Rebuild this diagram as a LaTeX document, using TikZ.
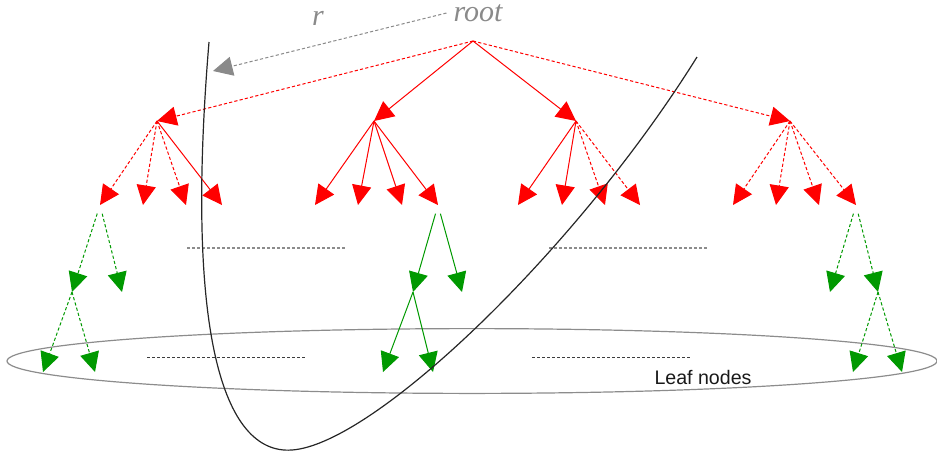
\documentclass[tikz,border=0pt]{standalone}
\usepackage{fontspec}
\usetikzlibrary{arrows.meta}
\newfontfamily\leafsans{Liberation Sans}
\newfontfamily\rootserif{Liberation Serif}
\definecolor{treeRed}{HTML}{FF0000}
\definecolor{treeGreen}{HTML}{009900}
\definecolor{radiusGray}{HTML}{8A8A8A}
\definecolor{levelGray}{HTML}{8C8C8C}
\definecolor{leafGray}{HTML}{3C3C3C}
\tikzset{
    tip/.style={-{Triangle[length=9.8pt,width=9.6pt]}},
    redline/.style={tip,draw=treeRed,line width=0.5pt},
    reddash/.style={redline,dash pattern=on 1.6pt off 1.1pt},
    greenline/.style={tip,draw=treeGreen,line width=0.5pt},
    greendash/.style={greenline,dash pattern=on 1.6pt off 1.1pt},
    radiusarrow/.style={tip,draw=radiusGray,line width=0.5pt,dash pattern=on 1.6pt off 1.1pt},
    levelline/.style={draw=levelGray,line width=0.6pt,dash pattern=on 1.5pt off 1pt},
    leafline/.style={draw=leafGray,line width=0.5pt,dash pattern=on 1.5pt off 1pt},
    italiclabel/.style={font=\rootserif\itshape\fontsize{15}{17}\selectfont,text=radiusGray},
    gap/.style={shorten <=4.5pt}
}
\begin{document}
\begin{tikzpicture}[x=0.5pt,y=-0.5pt]
    \useasboundingbox (0,0) rectangle (937,457);

    % tree points
    \coordinate (root) at (473,41);
    \coordinate (a) at (157,121);
    \coordinate (b) at (374,121);
    \coordinate (c) at (576,121);
    \coordinate (d) at (790,121);

    \coordinate (a1) at (100,205); \coordinate (a2) at (143,205);
    \coordinate (a3) at (186,205); \coordinate (a4) at (222,205);
    \coordinate (b1) at (315,205); \coordinate (b2) at (358,205);
    \coordinate (b3) at (402,205); \coordinate (b4) at (438,205);
    \coordinate (c1) at (518,205); \coordinate (c2) at (562,205);
    \coordinate (c3) at (605,205); \coordinate (c4) at (640,205);
    \coordinate (d1) at (733,205); \coordinate (d2) at (776,205);
    \coordinate (d3) at (819,205); \coordinate (d4) at (856,205);

    \coordinate (a11) at (72,292);   \coordinate (a12) at (122,292);
    \coordinate (a111) at (43,372);  \coordinate (a112) at (95,372);
    \coordinate (b41) at (413,292);  \coordinate (b42) at (462,292);
    \coordinate (b411) at (383,372); \coordinate (b412) at (433,372);
    \coordinate (d41) at (830,292);  \coordinate (d42) at (878,292);
    \coordinate (d421) at (853,372); \coordinate (d422) at (902,372);

    % leaf set and separators
    \draw[draw=black!45,line width=0.6pt] (472,361) ellipse [x radius=232.5pt,y radius=16.2pt];
    \node[font=\leafsans\fontsize{9.8}{11}\selectfont,text=black!90] (leaf) at (703,377) {Leaf nodes};
    \draw[levelline] (187,248) -- (345,248);
    \draw[levelline] (549,248) -- (707,248);
    \draw[leafline] (147,357) -- (305,357);
    \draw[leafline] (532,357) -- (690,357);

    % level 1
    \draw[reddash] (root) -- (a);
    \draw[redline] (root) -- (b);
    \draw[redline] (root) -- (c);
    \draw[reddash] (root) -- (d);

    % level 2
    \draw[reddash] (a) -- (a1);
    \draw[reddash] (a) -- (a2);
    \draw[reddash] (a) -- (a3);
    \draw[redline] (a) -- (a4);
    \draw[redline] (b) -- (b1);
    \draw[redline] (b) -- (b2);
    \draw[redline] (b) -- (b3);
    \draw[redline] (b) -- (b4);
    \draw[redline] (c) -- (c1);
    \draw[redline] (c) -- (c2);
    \draw[reddash] (c) -- (c3);
    \draw[reddash] (c) -- (c4);
    \draw[reddash] (d) -- (d1);
    \draw[reddash] (d) -- (d2);
    \draw[reddash] (d) -- (d3);
    \draw[reddash] (d) -- (d4);

    % lower levels
    \draw[greendash,gap] (a1) -- (a11);
    \draw[greendash,gap] (a1) -- (a12);
    \draw[greendash] (a11) -- (a111);
    \draw[greendash] (a11) -- (a112);
    \draw[greenline,gap] (b4) -- (b41);
    \draw[greenline,gap] (b4) -- (b42);
    \draw[greenline] (b41) -- (b411);
    \draw[greenline] (b41) -- (b412);
    \draw[greendash,gap] (d4) -- (d41);
    \draw[greendash,gap] (d4) -- (d42);
    \draw[greendash] (d42) -- (d421);
    \draw[greendash] (d42) -- (d422);

    % radius boundary
    \draw[black!85,line width=0.6pt] (209,42) .. controls (185,330) and (222,455) .. (292,450)
        .. controls (375,444) and (578,248) .. (697,57);

    \node[italiclabel] (rootlbl) at (478,13) {root};
    \node[italiclabel] (rlbl) at (318,18) {r};
    \coordinate (rhit) at (213,71);
    \draw[radiusarrow] (rootlbl.west) -- (rhit);
\end{tikzpicture}
\end{document}
